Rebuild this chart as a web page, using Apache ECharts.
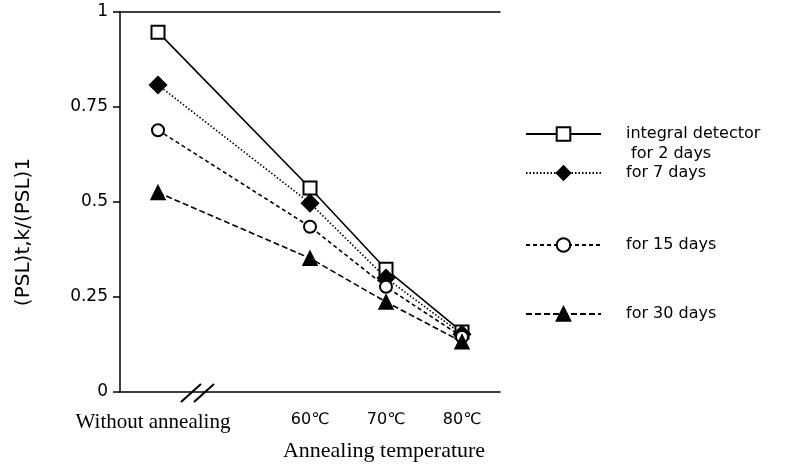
<!DOCTYPE html>
<html>
<head>
<meta charset="utf-8">
<script src="https://cdn.jsdelivr.net/npm/echarts@6/dist/echarts.min.js"></script>
<style>
  html, body { margin: 0; padding: 0; background: #fff; }
  #main { width: 786px; height: 468px; }
</style>
</head>
<body>
<div id="main"></div>
<script>
// categories (the empty one is the axis break)
const categories = ['Without annealing', '', '60℃', '70℃', '80℃'];
const yTicks = [0, 0.25, 0.5, 0.75, 1];

// values
const days2 = [0.947, '-', 0.537, 0.323, 0.158];
const days7 = [0.808, '-', 0.497, 0.300, 0.152];
const days15 = [0.689, '-', 0.435, 0.277, 0.145];
const days30 = [0.525, '-', 0.352, 0.237, 0.132];

const names = ['integral detector', 'for 7 days', 'for 15 days', 'for 30 days'];

let myChart = echarts.init(document.getElementById('main'));

function mkSeries(name, data, symbol, size, dash) {
  return {
    name: name,
    type: 'line',
    data: data,
    connectNulls: true,
    symbol: symbol,
    symbolSize: size,
    showAllSymbol: true,
    lineStyle: { color: '#000', width: 1.6, type: dash },
    itemStyle: { color: '#000', borderColor: '#000', borderWidth: 1.5 },
    emphasis: { disabled: true },
    z: 3
  };
}

function mkLegend(name, top) {
  return {
    data: [name],
    left: 520,
    top: top,
    itemWidth: 75,
    itemHeight: 17,
    selectedMode: false,
    formatter: function (n) {
      // first entry has a second line under it
      return n === names[0] ? ' \n' + n + '\n for 2 days' : n;
    },
    textStyle: {
      fontFamily: 'DejaVu Sans',
      fontSize: 16,
      color: '#000',
      lineHeight: 20,
      padding: [0, 0, 0, 20]
    }
  };
}

let options = {
  animation: false,
  backgroundColor: '#fff',
  grid: { left: 120, right: 286, top: 12, bottom: 76 },
  legend: [
    mkLegend(names[0], 99),
    mkLegend(names[1], 158),
    mkLegend(names[2], 230),
    mkLegend(names[3], 299)
  ],
  xAxis: [{
    type: 'category',
    data: categories,
    boundaryGap: true,
    axisLine: { lineStyle: { color: '#000', width: 1.5 } },
    axisTick: { alignWithLabel: true, length: 7, lineStyle: { color: '#000', width: 1.5 } },
    axisLabel: {
      margin: 20,
      interval: 0,
      formatter: function (v, i) {
        return i === 0 ? '{s|' + v + '}' : '{n|' + v + '}';
      },
      rich: {
        s: { fontFamily: 'Liberation Serif', fontSize: 21, color: '#000', padding: [0, 10, 0, 0] },
        n: { fontFamily: 'DejaVu Sans', fontSize: 16, color: '#000' }
      }
    },
    splitLine: { show: false },
    name: 'Annealing temperature',
    nameLocation: 'middle',
    nameGap: 48,
    nameTextStyle: {
      fontFamily: 'Liberation Serif', fontSize: 22, color: '#000',
      padding: [0, 0, 0, 148]
    }
  }, {
    type: 'category',
    position: 'top',
    data: categories,
    axisLine: { lineStyle: { color: '#000', width: 1.5 } },
    axisTick: { show: false },
    axisLabel: { show: false }
  }],
  yAxis: {
    type: 'value',
    min: 0,
    max: 1,
    interval: 0.25,
    axisLine: { show: true, lineStyle: { color: '#000', width: 1.5 } },
    axisTick: { show: true, length: 7, lineStyle: { color: '#000', width: 1.5 } },
    axisLabel: {
      margin: 12,
      fontFamily: 'DejaVu Sans', fontSize: 17, color: '#000',
      formatter: function (v) { return yTicks.indexOf(v) >= 0 ? String(v) : ''; }
    },
    splitLine: { show: false },
    name: '(PSL)t,k/(PSL)1',
    nameLocation: 'middle',
    nameGap: 86,
    nameTextStyle: {
      fontFamily: 'DejaVu Sans', fontSize: 20, color: '#000',
      padding: [0, 60, 0, 0]
    }
  },
  series: [
    mkSeries(names[0], days2, 'emptyRect', 13, 'solid'),
    mkSeries(names[1], days7, 'diamond', 17, [1.5, 2]),
    mkSeries(names[2], days15, 'emptyCircle', 12, [4, 3]),
    mkSeries(names[3], days30, 'triangle', 14, [6, 3])
  ],
  graphic: [
    { type: 'line', shape: { x1: 181, y1: 402, x2: 201, y2: 384 }, style: { stroke: '#000', lineWidth: 2 }, z: 10 },
    { type: 'line', shape: { x1: 194, y1: 402, x2: 214, y2: 384 }, style: { stroke: '#000', lineWidth: 2 }, z: 10 }
  ]
};

myChart.setOption(options);
</script>
</body>
</html>
